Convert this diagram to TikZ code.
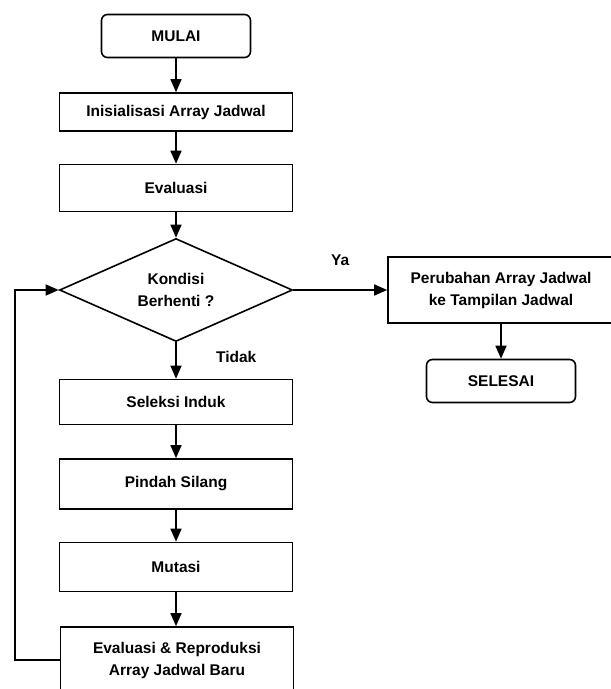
\documentclass[tikz,border=0pt]{standalone}
\usepackage{fontspec}
\setmainfont{Liberation Sans}
\usetikzlibrary{positioning, shapes.geometric, arrows.meta}

\begin{document}
\begin{tikzpicture}[x=1pt, y=-1pt,
    font=\fontsize{15.5}{22}\selectfont\bfseries,
    proses/.style={draw, line width=1.6pt, rectangle, minimum width=233pt, inner sep=0pt, align=center},
    terminal/.style={proses, rounded corners=6pt, minimum width=149pt, minimum height=43pt},
    keputusan/.style={proses, diamond, aspect=2, minimum width=233pt, minimum height=103pt},
    panah/.style={line width=1.6pt, -{Triangle[length=13pt, width=11pt]}}]

    \useasboundingbox (0,0) rectangle (611,689);
    \clip (0,0) rectangle (611,689);

    % main column
    \node[terminal] (mulai) at (176,36) {MULAI};
    \node[proses, minimum height=38pt] (inisialisasi) at (176,112) {Inisialisasi Array Jadwal};
    \node[proses, minimum height=47pt] (evaluasi) at (176,188) {Evaluasi};
    \node[keputusan] (kondisi) at (176,290) {Kondisi\\Berhenti ?};
    \node[proses, minimum height=45pt] (seleksi) at (176,402) {Seleksi Induk};
    \node[proses, minimum height=50pt] (pindah) at (176,484) {Pindah Silang};
    \node[proses, minimum height=49pt] (mutasi) at (176,567) {Mutasi};
    \node[proses, minimum height=66pt] (reproduksi) at (177,660) {Evaluasi \& Reproduksi\\Array Jadwal Baru};

    % right column
    \node[proses, minimum width=226pt, minimum height=66pt] (perubahan) at (501,290) {Perubahan Array Jadwal\\ke Tampilan Jadwal};
    \node[terminal] (selesai) at (501,381) {SELESAI};

    % loop corner
    \coordinate (belok) at (15,290);

    % draw the arrows
    \path[draw, panah] (mulai) -- (inisialisasi);
    \path[draw, panah] (inisialisasi) -- (evaluasi);
    \path[draw, panah] (evaluasi) -- (kondisi);
    \path[draw, panah] (kondisi) -- node[pos=0.4, right=36pt] {Tidak} (seleksi);
    \path[draw, panah] (seleksi) -- (pindah);
    \path[draw, panah] (pindah) -- (mutasi);
    \path[draw, panah] (mutasi.south) -- (mutasi.south |- reproduksi.north);
    \path[draw, panah] (kondisi.east) -- node[midway, above=20pt] {Ya} (perubahan.west);
    \path[draw, panah] (perubahan) -- (selesai);
    \path[draw, panah] (reproduksi.west) -| (belok) -- (kondisi.west);

\end{tikzpicture}
\end{document}
